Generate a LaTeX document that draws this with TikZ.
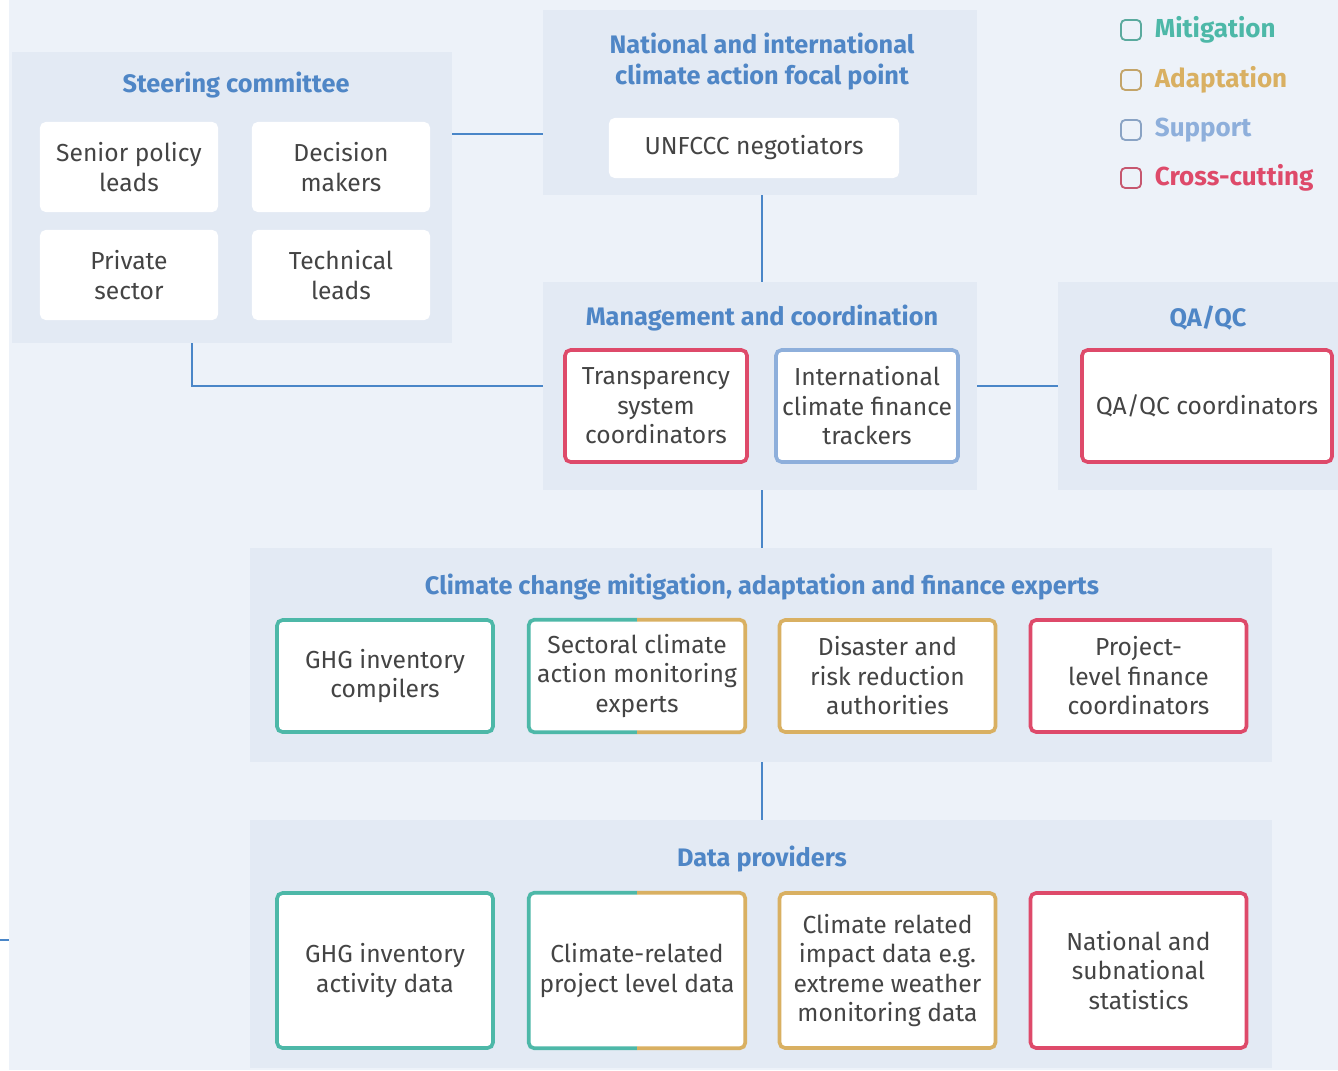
\documentclass[tikz,border=0pt]{standalone}
\usepackage{fontspec}
\setmainfont{Fira Sans}
\usetikzlibrary{positioning}

\definecolor{bgblue}{HTML}{EDF2F9}
\definecolor{panelblue}{HTML}{E3EAF4}
\definecolor{titleblue}{HTML}{4F86C6}
\definecolor{linkblue}{HTML}{4A86C8}
\definecolor{boxtext}{HTML}{444444}
\definecolor{mitig}{HTML}{4DB8A8}
\definecolor{adapt}{HTML}{D9B062}
\definecolor{suppt}{HTML}{8EAFDB}
\definecolor{cross}{HTML}{DE4A6A}

\tikzset{
	panel/.style={fill=panelblue, inner sep=0pt, outer sep=0pt},
	ptitle/.style={text=titleblue, font=\fontsize{18}{22}\selectfont\bfseries, align=center},
	wbox/.style={fill=white, rounded corners=4pt, inner sep=0pt, align=center, text=boxtext,
		font=\fontsize{17.5}{21}\selectfont, minimum width=4.45cm, minimum height=2.25cm},
	cbox/.style={wbox, draw=#1, line width=2.6pt},
	link/.style={draw=linkblue, line width=1.2pt},
	legbox/.style={draw=#1!75!gray, rounded corners=3pt, line width=1.3pt, minimum size=0.5cm, inner sep=0pt},
	legtext/.style={text=#1, font=\fontsize{18.5}{22}\selectfont\bfseries, inner sep=0pt}
}

\begin{document}
\begin{tikzpicture}[x=0.025cm, y=-0.025cm]
	\useasboundingbox (0,0) rectangle (1338,1070);
	\fill[bgblue] (9,0) rectangle (1338,1070);

%% Panels
	\node[panel, minimum width=11cm, minimum height=7.275cm] (steer) at (232,197.5) {};
	\node[panel, minimum width=10.85cm, minimum height=4.625cm] (focal) at (760,102.5) {};
	\node[panel, minimum width=10.85cm, minimum height=5.2cm] (mgmt) at (760,386) {};
	\node[panel, minimum width=7cm, minimum height=5.2cm] (qaqc) at (1198,386) {};
	\node[panel, minimum width=25.55cm, minimum height=5.35cm] (experts) at (761,655) {};
	\node[panel, minimum width=25.55cm, minimum height=6.2cm] (data) at (761,944) {};

%% Panel titles
	\node[ptitle] (steertitle) at (236,85) {Steering committee};
	\node[ptitle] (focaltitle) at (762,62) {National and international\\climate action focal point};
	\node[ptitle] (mgmttitle) at (762,318) {Management and coordination};
	\node[ptitle] (qaqctitle) at (1208,318) {QA/QC};
	\node[ptitle] (expertstitle) at (762,587) {Climate change mitigation, adaptation and finance experts};
	\node[ptitle] (datatitle) at (762,859) {Data providers};

%% Legend
	\node[legbox=mitig] (legmit) at (1131,30) {};
	\node[legtext=mitig, right=9pt of legmit] (legmittext) {Mitigation};
	\node[legbox=adapt] (legada) at (1131,80) {};
	\node[legtext=adapt, right=9pt of legada] (legadatext) {Adaptation};
	\node[legbox=suppt] (legsup) at (1131,130) {};
	\node[legtext=suppt, right=9pt of legsup] (legsuptext) {Support};
	\node[legbox=cross] (legcro) at (1131,178) {};
	\node[legtext=cross, right=9pt of legcro] (legcrotext) {Cross-cutting};

%% Steering committee
	\node[wbox] (senior) at (129,167) {Senior policy\\leads};
	\node[wbox] (decision) at (341,167) {Decision\\makers};
	\node[wbox] (private) at (129,275) {Private\\sector};
	\node[wbox] (technical) at (341,275) {Technical\\leads};

%% Focal point
	\node[wbox, minimum width=7.25cm, minimum height=1.5cm] (unfccc) at (754,148) {UNFCCC negotiators};

%% Management and QA/QC
	\node[cbox=cross, minimum width=4.55cm, minimum height=2.8cm] (transp) at (656,406) {Transparency\\system\\coordinators};
	\node[cbox=suppt, minimum width=4.55cm, minimum height=2.8cm] (intl) at (867,406) {International\\climate finance\\trackers};
	\node[cbox=cross, minimum width=6.25cm, minimum height=2.8cm] (qacoord) at (1207,406) {QA/QC coordinators};

%% Experts
	\node[cbox=mitig, minimum width=5.4cm, minimum height=2.8cm] (ghgcomp) at (385,676) {GHG inventory\\compilers};
	\node[wbox, minimum width=5.4cm, minimum height=2.8cm] (sectoral) at (637,676) {Sectoral climate\\action monitoring\\experts};
	\node[cbox=adapt, minimum width=5.4cm, minimum height=2.8cm] (disaster) at (887.5,676) {Disaster and\\risk reduction\\authorities};
	\node[cbox=cross, minimum width=5.4cm, minimum height=2.8cm] (projfin) at (1138.5,676) {Project-\\level finance\\coordinators};

%% Data providers
	\node[cbox=mitig, minimum width=5.4cm, minimum height=3.875cm] (ghgdata) at (385,970.5) {GHG inventory\\activity data};
	\node[wbox, minimum width=5.4cm, minimum height=3.875cm] (projdata) at (637,970.5) {Climate-related\\project level data};
	\node[cbox=adapt, minimum width=5.4cm, minimum height=3.875cm] (impact) at (887.5,970.5) {Climate related\\impact data e.g.\\extreme weather\\monitoring data};
	\node[cbox=cross, minimum width=5.4cm, minimum height=3.875cm] (stats) at (1138.5,970.5) {National and\\subnational\\statistics};

%% Two-coloured borders
	\begin{scope}
		\clip ([shift={(-10,-10)}]sectoral.north west) rectangle ([shift={(0,10)}]sectoral.south);
		\draw[mitig, line width=2.6pt, rounded corners=4pt] (sectoral.south west) rectangle (sectoral.north east);
	\end{scope}
	\begin{scope}
		\clip ([shift={(0,-10)}]sectoral.north) rectangle ([shift={(10,10)}]sectoral.south east);
		\draw[adapt, line width=2.6pt, rounded corners=4pt] (sectoral.south west) rectangle (sectoral.north east);
	\end{scope}
	\begin{scope}
		\clip ([shift={(-10,-10)}]projdata.north west) rectangle ([shift={(0,10)}]projdata.south);
		\draw[mitig, line width=2.6pt, rounded corners=4pt] (projdata.south west) rectangle (projdata.north east);
	\end{scope}
	\begin{scope}
		\clip ([shift={(0,-10)}]projdata.north) rectangle ([shift={(10,10)}]projdata.south east);
		\draw[adapt, line width=2.6pt, rounded corners=4pt] (projdata.south west) rectangle (projdata.north east);
	\end{scope}

%% Lines
	\draw[link] (steer.east |- 0,134) -- (focal.west |- 0,134);
	\draw[link] (focal.south -| 762,0) -- (mgmt.north -| 762,0);
	\draw[link] (steer.south -| 192,0) |- (mgmt.west);
	\draw[link] (mgmt.east) -- (qaqc.west);
	\draw[link] (mgmt.south -| 762,0) -- (experts.north -| 762,0);
	\draw[link] (experts.south -| 762,0) -- (data.north -| 762,0);
	\coordinate (edgeA) at (0,940);
	\coordinate (edgeB) at (9,940);
	\draw[link] (edgeA) -- (edgeB);
\end{tikzpicture}
\end{document}
